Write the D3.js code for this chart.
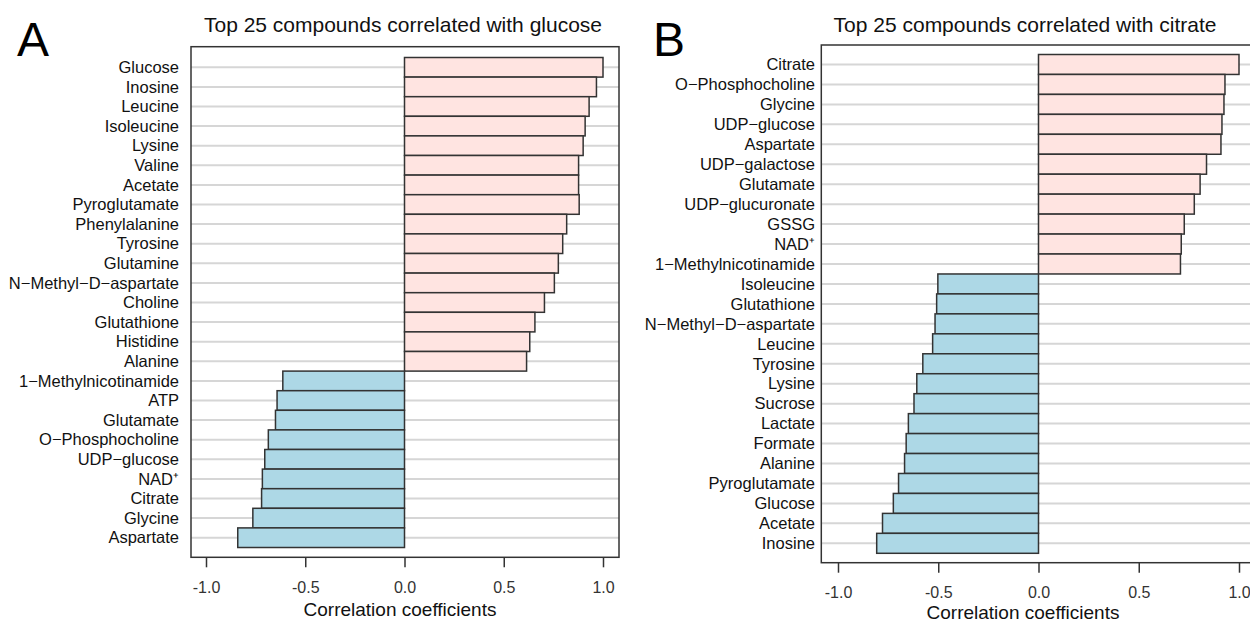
<!DOCTYPE html>
<html>
<head>
<meta charset="utf-8">
<script src="https://cdn.jsdelivr.net/npm/d3@7"></script>
<style>
  html, body { margin: 0; padding: 0; background: #fff; }
  svg { display: block; font-family: "Liberation Sans", Arial, Helvetica, sans-serif; }
</style>
</head>
<body>
<svg id="chart" width="1250" height="623"></svg>
<script>
// ---- Data ----
const categoriesA = ["Glucose","Inosine","Leucine","Isoleucine","Lysine","Valine","Acetate","Pyroglutamate",
  "Phenylalanine","Tyrosine","Glutamine","N\u2212Methyl\u2212D\u2212aspartate","Choline","Glutathione","Histidine","Alanine",
  "1\u2212Methylnicotinamide","ATP","Glutamate","O\u2212Phosphocholine","UDP\u2212glucose","NAD\u207A","Citrate","Glycine","Aspartate"];
const valuesA = [1.00, 0.967, 0.93, 0.91, 0.90, 0.877, 0.877, 0.88,
  0.817, 0.797, 0.775, 0.755, 0.705, 0.657, 0.631, 0.615,
  -0.613, -0.642, -0.650, -0.686, -0.704, -0.716, -0.720, -0.764, -0.840];

const categoriesB = ["Citrate","O\u2212Phosphocholine","Glycine","UDP\u2212glucose","Aspartate","UDP\u2212galactose","Glutamate",
  "UDP\u2212glucuronate","GSSG","NAD\u207A","1\u2212Methylnicotinamide","Isoleucine","Glutathione","N\u2212Methyl\u2212D\u2212aspartate",
  "Leucine","Tyrosine","Lysine","Sucrose","Lactate","Formate","Alanine","Pyroglutamate","Glucose","Acetate","Inosine"];
const valuesB = [1.00, 0.93, 0.925, 0.915, 0.91, 0.838, 0.806, 0.777, 0.727, 0.712, 0.708,
  -0.502, -0.508, -0.516, -0.528, -0.577, -0.607, -0.621, -0.649, -0.660, -0.668,
  -0.698, -0.724, -0.778, -0.807];

const tickValues = [-1, -0.5, 0, 0.5, 1];
const tickLabels = ["-1.0", "-0.5", "0.0", "0.5", "1.0"];

const titleA = "Top 25 compounds correlated with glucose";
const titleB = "Top 25 compounds correlated with citrate";
const axisTitle = "Correlation coefficients";

// ---- Layout ----
const svg = d3.select("#chart");
const posColor = "#FFE4E1", negColor = "#ADD8E6";

function panel(cfg) {
  const g = svg.append("g");
  const x = d3.scaleLinear().domain([-1, 1]).range([cfg.xm1, cfg.xp1]);
  const y = d3.scaleBand().domain(cfg.cats).range([cfg.bandTop, cfg.bandBottom]).paddingInner(0).paddingOuter(0);

  // gridlines
  g.append("g").selectAll("line").data(cfg.cats).join("line")
    .attr("x1", cfg.left).attr("x2", cfg.right)
    .attr("y1", d => y(d) + y.bandwidth() / 2).attr("y2", d => y(d) + y.bandwidth() / 2)
    .attr("stroke", "#d6d6d6").attr("stroke-width", 2);

  // bars
  g.append("g").selectAll("rect").data(cfg.vals).join("rect")
    .attr("x", d => x(Math.min(0, d)))
    .attr("width", d => Math.abs(x(d) - x(0)))
    .attr("y", (d, i) => y(cfg.cats[i]))
    .attr("height", y.bandwidth())
    .attr("fill", d => d >= 0 ? posColor : negColor)
    .attr("stroke", "#333").attr("stroke-width", 1.5);

  // box
  g.append("rect")
    .attr("x", cfg.left).attr("y", cfg.top)
    .attr("width", cfg.right - cfg.left).attr("height", cfg.bottom - cfg.top)
    .attr("fill", "none").attr("stroke", "#333").attr("stroke-width", 1.5);

  // category labels
  g.append("g").selectAll("text").data(cfg.cats).join("text")
    .attr("x", cfg.labelX)
    .attr("y", d => y(d) + y.bandwidth() / 2)
    .attr("dy", "0.35em")
    .attr("text-anchor", "end")
    .attr("font-size", 16.5).attr("fill", "#111")
    .text(d => d);

  // x axis
  const ax = g.append("g").attr("transform", `translate(0,${cfg.bottom})`)
    .call(d3.axisBottom(x).tickValues(tickValues).tickSize(10).tickPadding(14)
      .tickFormat((d, i) => tickLabels[i]));
  ax.select(".domain").remove();
  ax.selectAll(".tick line").attr("stroke", "#333").attr("stroke-width", 1.5);
  ax.selectAll(".tick text").attr("font-size", 16).attr("fill", "#333")
    .attr("font-family", "\"Liberation Sans\", Arial, sans-serif");

  // axis title
  g.append("text").attr("x", cfg.axisTitleX).attr("y", cfg.axisTitleY)
    .attr("text-anchor", "middle").attr("font-size", 19).attr("fill", "#111")
    .text(axisTitle);

  // title
  g.append("text").attr("x", cfg.titleX).attr("y", cfg.titleY)
    .attr("text-anchor", "middle").attr("font-size", 21).attr("fill", "#111")
    .text(cfg.title);

  // panel letter
  g.append("text").attr("x", cfg.letterX).attr("y", cfg.letterY)
    .attr("font-size", 48).attr("fill", "#000")
    .text(cfg.letter);
}

panel({
  cats: categoriesA, vals: valuesA, title: titleA, letter: "A",
  left: 191, right: 619, top: 46.7, bottom: 557.3,
  bandTop: 57.5, bandBottom: 547.5,
  xm1: 206, xp1: 603,
  labelX: 179, axisTitleX: 400, axisTitleY: 616,
  titleX: 403, titleY: 32, letterX: 17, letterY: 56
});

panel({
  cats: categoriesB, vals: valuesB, title: titleB, letter: "B",
  left: 821.3, right: 1251, top: 45, bottom: 562.7,
  bandTop: 54.5, bandBottom: 553.3,
  xm1: 838, xp1: 1239,
  labelX: 815, axisTitleX: 1023, axisTitleY: 619,
  titleX: 1025, titleY: 32, letterX: 653, letterY: 56
});
</script>
</body>
</html>
